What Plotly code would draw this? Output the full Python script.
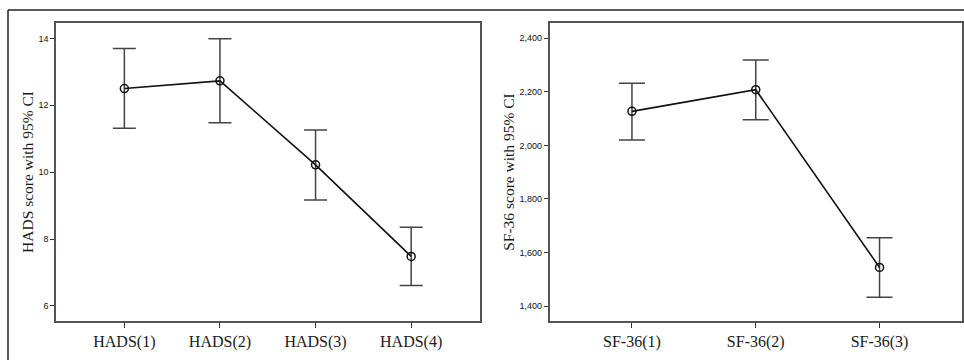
import plotly.graph_objects as go

W, H = 964, 360

hads_labels = ["HADS(1)", "HADS(2)", "HADS(3)", "HADS(4)"]
hads_mean = [12.50, 12.73, 10.22, 7.48]
hads_upper = [13.70, 13.99, 11.26, 8.35]
hads_lower = [11.31, 11.48, 9.17, 6.61]

sf_labels = ["SF-36(1)", "SF-36(2)", "SF-36(3)"]
sf_mean = [2127, 2208, 1544]
sf_upper = [2232, 2319, 1655]
sf_lower = [2020, 2096, 1433]

hads_ticks = [6, 8, 10, 12, 14]
sf_ticks = [1400, 1600, 1800, 2000, 2200, 2400]


def px_x(v):
    return v / W


def px_y(v):
    return 1 - v / H


fig = go.Figure()

fig.add_trace(go.Scatter(
    x=list(range(len(hads_labels))), y=hads_mean,
    mode="lines+markers",
    line=dict(color="#111111", width=1.6),
    marker=dict(symbol="circle-open", size=8, color="#111111", line=dict(width=1.5)),
    error_y=dict(type="data", symmetric=False,
                 array=[u - m for u, m in zip(hads_upper, hads_mean)],
                 arrayminus=[m - l for m, l in zip(hads_mean, hads_lower)],
                 color="#444444", thickness=1.5, width=11.5),
    xaxis="x", yaxis="y", showlegend=False,
))

fig.add_trace(go.Scatter(
    x=list(range(len(sf_labels))), y=sf_mean,
    mode="lines+markers",
    line=dict(color="#111111", width=1.6),
    marker=dict(symbol="circle-open", size=8, color="#111111", line=dict(width=1.5)),
    error_y=dict(type="data", symmetric=False,
                 array=[u - m for u, m in zip(sf_upper, sf_mean)],
                 arrayminus=[m - l for m, l in zip(sf_mean, sf_lower)],
                 color="#444444", thickness=1.5, width=13),
    xaxis="x2", yaxis="y2", showlegend=False,
))

ydom = [px_y(321), px_y(23)]
axis_common = dict(showline=True, mirror=True, linecolor="#555555", linewidth=1.5,
                   showgrid=False, zeroline=False, ticks="outside", tickcolor="#333333")

fig.update_layout(
    width=W, height=H,
    margin=dict(l=0, r=0, t=0, b=0),
    paper_bgcolor="white", plot_bgcolor="white",
    xaxis=dict(domain=[px_x(56), px_x(480)], range=[-0.715, 3.72],
               tickmode="array", tickvals=list(range(len(hads_labels))), ticktext=hads_labels,
               ticklen=5, tickwidth=1.3,
               tickfont=dict(family="Liberation Serif", size=16, color="#1a1a1a"),
               anchor="y", **axis_common),
    yaxis=dict(domain=ydom, range=[5.55, 14.46],
               tickmode="array", tickvals=hads_ticks,
               ticklen=4, tickwidth=1.3,
               tickfont=dict(family="Liberation Sans", size=9, color="#111111"),
               title=dict(text="HADS score with 95% CI", standoff=1,
                          font=dict(family="Liberation Serif", size=15.5, color="#1a1a1a")),
               anchor="x", **axis_common),
    xaxis2=dict(domain=[px_x(549.5), px_x(961.5)], range=[-0.666, 2.662],
                tickmode="array", tickvals=list(range(len(sf_labels))), ticktext=sf_labels,
                ticklen=5, tickwidth=1.3,
                tickfont=dict(family="Liberation Serif", size=16, color="#1a1a1a"),
                anchor="y2", **axis_common),
    yaxis2=dict(domain=ydom, range=[1344, 2457],
                tickmode="array", tickvals=sf_ticks, tickformat=",",
                ticklen=4, tickwidth=1.3,
                tickfont=dict(family="Liberation Sans", size=9, color="#111111"),
                title=dict(text="SF-36 score with 95% CI", standoff=1,
                           font=dict(family="Liberation Serif", size=15.5, color="#1a1a1a")),
                anchor="x2", **axis_common),
    shapes=[
        dict(type="line", xref="paper", yref="paper",
             x0=px_x(8), x1=1.01, y0=px_y(10), y1=px_y(10),
             line=dict(color="#222222", width=1.5)),
        dict(type="line", xref="paper", yref="paper",
             x0=px_x(8), x1=px_x(8), y0=px_y(10), y1=-0.05,
             line=dict(color="#222222", width=1.5)),
    ],
)

fig.write_html("out.html")
